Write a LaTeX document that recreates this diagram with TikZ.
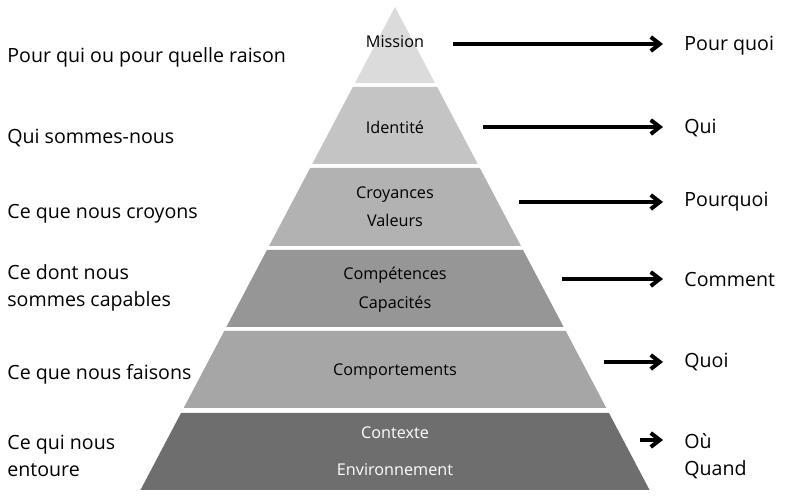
\documentclass[tikz,border=0pt]{standalone}
\usepackage{fontspec}
\setmainfont{Open Sans}
\usetikzlibrary{positioning,arrows.meta}

% greys of the six levels, from the top down
\definecolor{lvlone}{gray}{0.86}
\definecolor{lvltwo}{gray}{0.77}
\definecolor{lvlthree}{gray}{0.70}
\definecolor{lvlfour}{gray}{0.59}
\definecolor{lvlfive}{gray}{0.65}
\definecolor{lvlsix}{gray}{0.43}

\tikzset{
  side/.style={anchor=west,align=left,inner sep=0pt,
    font=\fontsize{9.8}{13.5}\selectfont},
  tier/.style={inner sep=0pt,font=\fontsize{8.1}{11}\selectfont},
  pil/.style={-{Straight Barb[length=4.5pt,width=7pt]},line width=2pt,
    shorten >=10.5pt}
}

\begin{document}
\begin{tikzpicture}[x=0.5pt,y=-0.5pt]
  \useasboundingbox[fill=white] (0,0) rectangle (800,496);
  % The pyramid: each band is cut out of one triangle with its apex at (395,7)
  \fill[lvlone] (395,7) -- (435,83) -- (355,83) -- cycle;
  \foreach \top/\bot/\col in {87/164/lvltwo,168/246/lvlthree,250/327/lvlfour,
                              331/408/lvlfive,413/490/lvlsix}
    \fill[\col] ({395-0.527*(\top-7)},\top) -- ({395+0.527*(\top-7)},\top)
      -- ({395+0.527*(\bot-7)},\bot) -- ({395-0.527*(\bot-7)},\bot) -- cycle;

  % Texts inside the bands
  \node[tier] (mis) at (395,42) {Mission};
  \node[tier] (ide) at (395,127) {Identité};
  \node[tier] (cro) at (395,195) {Croyances};
  \node[tier] (val) at (395,220) {Valeurs};
  \node[tier] (com) at (395,275) {Compétences};
  \node[tier] (cap) at (395,304) {Capacités};
  \node[tier] (cmp) at (395,372) {Comportements};
  \node[tier,white] (ctx) at (395,433) {Contexte};
  \node[tier,white] (env) at (395,470) {Environnement};

  % Left column
  \node[side] (l1) at (7,57) {Pour qui ou pour quelle raison};
  \node[side] (l2) at (7,138) {Qui sommes-nous};
  \node[side] (l3) at (7,214) {Ce que nous croyons};
  \node[side] (l4) at (7,288) {Ce dont nous\\sommes capables};
  \node[side] (l5) at (7,374) {Ce que nous faisons};
  \node[side] (l6) at (7,456) {Ce qui nous\\entoure};

  % Right column
  \node[side] (r1) at (684,46) {Pour quoi};
  \node[side] (r2) at (684,128) {Qui};
  \node[side] (r3) at (684,202) {Pourquoi};
  \node[side] (r4) at (684,280) {Comment};
  \node[side] (r5) at (684,362) {Quoi};
  \node[side] (r6) at (684,456) {Où\\Quand};

  % Where the arrows start
  \coordinate (a1) at (453,44);
  \coordinate (a2) at (483,127);
  \coordinate (a3) at (519,202);
  \coordinate (a4) at (562,279);
  \coordinate (a5) at (604,362);
  \coordinate (a6) at (640,440);

  % Arrows out to the questions
  \foreach \i in {1,...,6}
    \draw[pil] (a\i) -- (a\i -| r\i.west);
\end{tikzpicture}
\end{document}
